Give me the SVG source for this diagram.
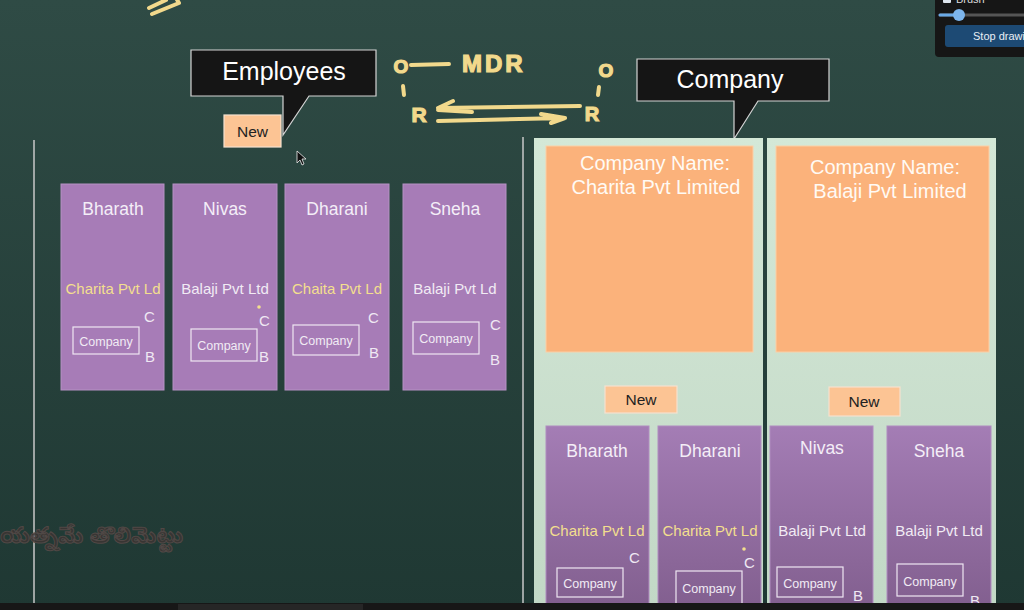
<svg xmlns="http://www.w3.org/2000/svg" width="1024" height="610" viewBox="0 0 1024 610">
<defs>
<linearGradient id="bg" x1="0" y1="0" x2="0" y2="1">
<stop offset="0" stop-color="#2f4b45"/>
<stop offset="1" stop-color="#1f3833"/>
</linearGradient>
<linearGradient id="panel" x1="0" y1="0" x2="0" y2="1">
<stop offset="0" stop-color="#d4e8d7"/>
<stop offset="1" stop-color="#c2d8c6"/>
</linearGradient>
<linearGradient id="pcard" x1="0" y1="0" x2="0" y2="1">
<stop offset="0" stop-color="#a47db5"/>
<stop offset="1" stop-color="#825f8f"/>
</linearGradient>
<style>
.callout{fill:#151515;stroke:#d4d4d4;stroke-width:1.2}
.ctitle{font-family:"Liberation Sans",Arial,sans-serif;font-size:25px;fill:#ffffff;text-anchor:middle}
.new{fill:#fcc494;stroke:#f6e2cf;stroke-width:1.2}
.newt{font-family:"Liberation Sans",Arial,sans-serif;font-size:15.5px;fill:#222;text-anchor:middle}
.card{fill:#a77cb7;stroke:#b592c3;stroke-width:1}
.pcard{fill:url(#pcard);stroke:#b08cc0;stroke-width:1}
.name{font-family:"Liberation Sans",Arial,sans-serif;font-size:17.5px;fill:#f4eef7;text-anchor:middle}
.co{font-family:"Liberation Sans",Arial,sans-serif;font-size:15px;text-anchor:middle}
.yel{fill:#f3df8e}
.wht{fill:#f1ebf4}
.box{fill:none;stroke:#eee6f2;stroke-width:1.2}
.boxt{font-family:"Liberation Sans",Arial,sans-serif;font-size:12.5px;fill:#f1ebf4;text-anchor:middle}
.cb{font-family:"Liberation Sans",Arial,sans-serif;font-size:15px;fill:#efe8f3}
.panel{fill:url(#panel)}
.orange{fill:#fbb27b;stroke:#fccfa6;stroke-width:1}
.cname{font-family:"Liberation Sans",Arial,sans-serif;font-size:20px;fill:#fffaf4;text-anchor:middle}
.hand{fill:none;stroke:#f2d98c;stroke-width:4;stroke-linecap:round;stroke-linejoin:round}
.handt{font-family:"Liberation Sans",Arial,sans-serif;font-weight:bold;fill:#f2d98c;stroke:#f2d98c;stroke-width:1.2}
.vline{stroke:#c9c9c9;stroke-width:1.5}
</style>
</defs>

<rect x="0" y="0" width="1024" height="610" fill="url(#bg)"/>

<g id="dividers">
<line class="vline" x1="34" y1="140" x2="34" y2="603"/>
<line class="vline" x1="523" y1="137" x2="523" y2="603"/>
</g>

<g id="watermark">
<text x="0" y="543" font-family="'Noto Sans Telugu','Noto Sans',sans-serif" font-size="22.5" font-weight="bold" fill="#3b3533" stroke="#564a48" stroke-width="1" opacity="0.9">యత్నమే తొలిమెట్టు</text>
</g>

<g id="scribble-top">
<path class="hand" d="M149,8 L166,0 M152,14 L179,3 L176,-2"/>
</g>

<g id="ui-panel">
<rect x="935" y="-6" width="95" height="63" rx="4" fill="#161616"/>
<rect x="943" y="-6" width="8" height="9" rx="1" fill="#dfe6ee"/>
<text x="956" y="3" font-family="'Liberation Sans',Arial,sans-serif" font-size="11" fill="#dddddd">Brush</text>
<line x1="940" y1="15" x2="1024" y2="15" stroke="#555" stroke-width="3" stroke-linecap="round"/>
<line x1="940" y1="15" x2="959" y2="15" stroke="#6aa9e6" stroke-width="3" stroke-linecap="round"/>
<circle cx="959" cy="15" r="6" fill="#7db5ec"/>
<rect x="945" y="25" width="85" height="22" rx="3" fill="#1d4a74"/>
<text x="973" y="40" font-family="'Liberation Sans',Arial,sans-serif" font-size="11" fill="#e8eef5">Stop drawing</text>
</g>

<g id="employees-callout">
<path class="callout" d="M191,50 H376 V96 H309 L283,135 V96 H191 Z"/>
<text class="ctitle" x="284" y="80">Employees</text>
</g>

<g id="new-employees">
<rect class="new" x="224" y="115" width="57" height="32"/>
<text class="newt" x="252.5" y="137" font-size="16">New</text>
</g>

<g id="company-callout">
<path class="callout" d="M637,59 H829 V101 H758 L734,139 V101 H637 Z"/>
<text class="ctitle" x="730" y="88">Company</text>
</g>

<g id="annotation-mdr">
<text class="handt" x="401" y="73" font-size="19" text-anchor="middle">O</text>
<path class="hand" d="M411,65 L449,64"/>
<text class="handt" x="462" y="72" font-size="24" letter-spacing="3">MDR</text>
<path class="hand" d="M403,86 L404,95"/>
<text class="handt" x="419" y="122" font-size="21" text-anchor="middle">R</text>
<text class="handt" x="606" y="77" font-size="19" text-anchor="middle">O</text>
<path class="hand" d="M599,87 L598,95"/>
<text class="handt" x="592" y="121" font-size="20" text-anchor="middle">R</text>
</g>

<g id="connectors">
<path class="hand" d="M580,106 L438,108 M438,108 L453,101 M438,110 L472,112"/>
<path class="hand" d="M438,121 L565,118 M565,118 L541,114 M565,118 L551,123"/>
</g>

<g id="emp-bharath">
<rect class="card" x="61" y="184" width="103" height="206"/>
<text class="name" x="113" y="215">Bharath</text>
<text class="co yel" x="113" y="294">Charita Pvt Ld</text>
<rect class="box" x="73" y="327" width="66" height="27"/>
<text class="boxt" x="106" y="346">Company</text>
<text class="cb" x="144" y="322">C</text>
<text class="cb" x="145" y="362">B</text>
</g>

<g id="emp-nivas">
<rect class="card" x="173" y="184" width="104" height="206"/>
<text class="name" x="225" y="215">Nivas</text>
<text class="co wht" x="225" y="294">Balaji Pvt Ltd</text>
<circle cx="259" cy="307" r="1.8" fill="#f3df8e"/>
<rect class="box" x="191" y="329" width="66" height="32"/>
<text class="boxt" x="224" y="350">Company</text>
<text class="cb" x="259" y="326">C</text>
<text class="cb" x="259" y="362">B</text>
</g>

<g id="emp-dharani">
<rect class="card" x="285" y="184" width="104" height="206"/>
<text class="name" x="337" y="215">Dharani</text>
<text class="co yel" x="337" y="294">Chaita Pvt Ld</text>
<rect class="box" x="293" y="325" width="66" height="30"/>
<text class="boxt" x="326" y="345">Company</text>
<text class="cb" x="368" y="323">C</text>
<text class="cb" x="369" y="358">B</text>
</g>

<g id="emp-sneha">
<rect class="card" x="403" y="184" width="103" height="206"/>
<text class="name" x="455" y="215">Sneha</text>
<text class="co wht" x="455" y="294">Balaji Pvt Ld</text>
<rect class="box" x="413" y="322" width="66" height="32"/>
<text class="boxt" x="446" y="343">Company</text>
<text class="cb" x="490" y="330">C</text>
<text class="cb" x="490" y="365">B</text>
</g>

<g id="company-charita">
<rect class="panel" x="534" y="138" width="229" height="470"/>
<rect class="orange" x="546" y="146" width="207" height="206"/>
<text class="cname" x="655" y="170">Company Name:</text>
<text class="cname" x="656" y="194">Charita Pvt Limited</text>
<rect class="new" x="605" y="386" width="72" height="27"/>
<text class="newt" x="641" y="405">New</text>
<g id="charita-bharath">
<rect class="pcard" x="546" y="426" width="103" height="182"/>
<text class="name" x="597" y="457">Bharath</text>
<text class="co yel" x="597" y="536">Charita Pvt Ld</text>
<text class="cb" x="629" y="563">C</text>
<rect class="box" x="557" y="568" width="66" height="29"/>
<text class="boxt" x="590" y="588">Company</text>
</g>
<g id="charita-dharani">
<rect class="pcard" x="658" y="426" width="103" height="182"/>
<text class="name" x="710" y="457">Dharani</text>
<text class="co yel" x="710" y="536">Charita Pvt Ld</text>
<circle cx="744" cy="549" r="1.8" fill="#f3df8e"/>
<text class="cb" x="744" y="568">C</text>
<rect class="box" x="676" y="571" width="66" height="34"/>
<text class="boxt" x="709" y="593">Company</text>
</g>
</g>

<g id="company-balaji">
<rect class="panel" x="767" y="138" width="229" height="470"/>
<rect class="orange" x="776" y="146" width="213" height="206"/>
<text class="cname" x="885" y="174">Company Name:</text>
<text class="cname" x="890" y="198">Balaji Pvt Limited</text>
<rect class="new" x="829" y="387" width="71" height="29"/>
<text class="newt" x="864" y="407">New</text>
<g id="balaji-nivas">
<rect class="pcard" x="770" y="426" width="103" height="182"/>
<text class="name" x="822" y="454">Nivas</text>
<text class="co wht" x="822" y="536">Balaji Pvt Ltd</text>
<rect class="box" x="777" y="567" width="66" height="30"/>
<text class="boxt" x="810" y="588">Company</text>
<text class="cb" x="853" y="601">B</text>
</g>
<g id="balaji-sneha">
<rect class="pcard" x="887" y="426" width="104" height="182"/>
<text class="name" x="939" y="457">Sneha</text>
<text class="co wht" x="939" y="536">Balaji Pvt Ltd</text>
<rect class="box" x="897" y="564" width="66" height="32"/>
<text class="boxt" x="930" y="586">Company</text>
<text class="cb" x="970" y="606">B</text>
</g>
</g>

<g id="cursor">
<path d="M297,151 L297,163 L300,160 L302,165 L304,164 L302,159 L306,159 Z" fill="#111" stroke="#eee" stroke-width="0.8"/>
</g>

<g id="bottom-bar">
<rect x="0" y="603" width="1024" height="7" fill="#171717"/>
<rect x="178" y="604" width="185" height="6" fill="#262626"/>
</g>
</svg>
